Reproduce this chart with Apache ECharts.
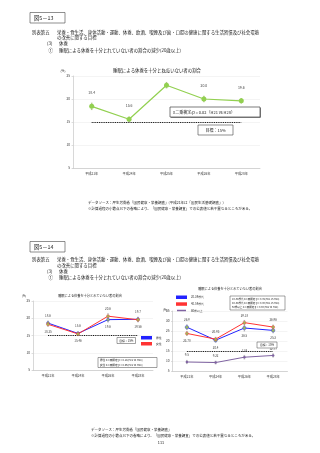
<!DOCTYPE html>
<html><head><meta charset="utf-8">
<script src="https://cdn.jsdelivr.net/npm/echarts@6/dist/echarts.min.js"></script>
<style>html,body{margin:0;padding:0;background:#fff}#c{width:320px;height:453px}</style>
</head><body><div id="c"></div>
<script>
// ---- data ----
const cats1 = ['平成21年','平成24年','平成25年','平成26年','平成28年'];
const total = [18.4, 15.6, 23.0, 20.0, 19.6];
const totalErr = [0.7, 0.5, 0.6, 0.6, 0.5];
const cats2 = ['平成21年','平成24年','平成26年','平成28年'];
const male = [18.6, 15.6, 19.6, 19.7];
const female = [18.25, 15.46, 20.6, 19.56];
const maleErr = [0.6, 0.5, 0.7, 0.6];
const femaleErr = [0.6, 0.5, 0.7, 0.6];
const age2039 = [26.9, 20.4, 26.5, 25.3];
const age4059 = [23.78, 20.93, 29.18, 26.96];
const age60 = [9.5, 9.22, 11.9, 12.77];
const err2039 = [1.2, 1.0, 1.5, 1.2];
const err4059 = [1.0, 0.9, 1.1, 1.0];
const err60 = [0.8, 0.7, 0.9, 0.8];
const targetValue = 15;
const axis1 = {min: 5, max: 25, interval: 5};
const axis2 = {min: 5, max: 25, interval: 5};
const axis3 = {min: 5, max: 35, interval: 5};

const FONT = '"Noto Sans CJK JP", sans-serif';
const chart = echarts.init(document.getElementById('c'), null, {renderer: 'canvas'});

function txt(x, y, s, size, opt) {
  opt = opt || {};
  return {type: 'text', x: x, y: y, z: 10, style: {text: s, fill: opt.color || '#222',
    font: (opt.weight || 'normal') + ' ' + size + 'px ' + FONT,
    textAlign: opt.align || 'left', textVerticalAlign: 'middle'}};
}
function box(x, y, w, h, lw, shadow) {
  const arr = [];
  if (shadow) arr.push({type: 'rect', z: 9, shape: {x: x + 0.8, y: y + 0.8, width: w, height: h}, style: {fill: '#666', stroke: null}});
  arr.push({type: 'rect', z: 9, shape: {x: x, y: y, width: w, height: h}, style: {fill: '#fff', stroke: '#444', lineWidth: lw || 0.5}});
  return arr;
}
function xAx(gi, cats) {
  return {type: 'category', gridIndex: gi, data: cats, boundaryGap: true,
    axisLine: {lineStyle: {color: '#bdbdbd', width: 0.6}}, axisTick: {show: false},
    axisLabel: {fontSize: 3.2, color: '#333', margin: 4, fontFamily: FONT}};
}
function yAx(gi, a) {
  return {type: 'value', gridIndex: gi, min: a.min, max: a.max, interval: a.interval,
    axisLine: {show: true, lineStyle: {color: '#bdbdbd', width: 0.6}},
    axisTick: {show: true, length: 1.5, lineStyle: {color: '#bdbdbd', width: 0.5}},
    splitLine: {show: true, lineStyle: {color: '#e8e8e8', width: 0.5}},
    axisLabel: {fontSize: 3.2, color: '#333', margin: 3, fontFamily: FONT}};
}
function errSeries(gi, vals, errs, color) {
  return {type: 'custom', xAxisIndex: gi, yAxisIndex: gi, z: 3, silent: true,
    data: vals.map((v, i) => [i, v - errs[i], v + errs[i]]),
    encode: {x: 0, y: [1, 2]},
    renderItem: function (params, api) {
      const lo = api.coord([api.value(0), api.value(1)]);
      const hi = api.coord([api.value(0), api.value(2)]);
      const w = 0.8;
      const st = {stroke: color, lineWidth: 0.5};
      return {type: 'group', children: [
        {type: 'line', shape: {x1: lo[0], y1: lo[1], x2: hi[0], y2: hi[1]}, style: st},
        {type: 'line', shape: {x1: lo[0] - w, y1: lo[1], x2: lo[0] + w, y2: lo[1]}, style: st},
        {type: 'line', shape: {x1: hi[0] - w, y1: hi[1], x2: hi[0] + w, y2: hi[1]}, style: st}
      ]};
    }};
}
function targetLine(cats) {
  return {silent: true, symbol: 'none', label: {show: false},
    lineStyle: {color: '#111', type: [1, 0.8], width: 1},
    data: [[{coord: [cats[0], targetValue]}, {coord: [cats[cats.length - 1], targetValue]}]]};
}
function pairLabels(a, b) {
  return a.map((v, i) => ({value: v, label: {position: v >= b[i] ? 'top' : 'bottom'}}));
}
const lblStyle = {show: true, fontSize: 3, color: '#444', distance: 4, fontFamily: FONT, formatter: p => String(p.value)};

const HEAD = 4.4;
const SRC = 3.5;
const graphics = [];
// ===== Top section =====
graphics.push(...box(30, 12.5, 35, 10.5, 0.6));
graphics.push(txt(34, 18, '図5－13', 5.3));
graphics.push(txt(32, 32, '別表第五', HEAD));
graphics.push(txt(57, 32, '栄養・食生活、身体活動・運動、休養、飲酒、喫煙及び歯・口腔の健康に関する生活習慣及び社会環境', HEAD));
graphics.push(txt(57, 37.5, 'の改善に関する目標', HEAD));
graphics.push(txt(47, 43.5, '(3)', HEAD));
graphics.push(txt(59, 43.5, '休養', HEAD));
graphics.push(txt(48.5, 50.5, '①', HEAD));
graphics.push(txt(59, 50.5, '睡眠による休養を十分とれていない者の割合の減少(20歳以上)', HEAD));
graphics.push(txt(157, 70.5, '睡眠による休養を十分とれていない者の割合', 4.4, {align: 'center'}));
graphics.push(txt(63, 70.5, '(%)', 3, {align: 'center'}));
graphics.push(...box(170, 107, 90, 10, 0.7, true));
graphics.push(txt(173, 112, 'χ二乗検定:p = 0.02（H21 vs H28）', 4));
graphics.push(...box(198, 125, 35, 10, 0.6));
graphics.push(txt(215.5, 130, '目標：15%', 4, {align: 'center'}));
graphics.push(txt(88, 203, 'データソース：厚生労働省「国民健康・栄養調査」(平成21年は「国民生活基礎調査」)', SRC));
graphics.push(txt(88, 208.5, '※計算過程の小数点以下の省略により、「国民健康・栄養調査」での公表値と若干異なるところがある。', SRC));

// ===== Bottom section =====
graphics.push(...box(30, 241.5, 35, 10.5, 0.6));
graphics.push(txt(34, 247, '図5－14', 5.3));
graphics.push(txt(32, 259.5, '別表第五', HEAD));
graphics.push(txt(57, 259.5, '栄養・食生活、身体活動・運動、休養、飲酒、喫煙及び歯・口腔の健康に関する生活習慣及び社会環境', HEAD));
graphics.push(txt(57, 265, 'の改善に関する目標', HEAD));
graphics.push(txt(47, 271, '(3)', HEAD));
graphics.push(txt(59, 271, '休養', HEAD));
graphics.push(txt(48.5, 277.5, '①', HEAD));
graphics.push(txt(59, 277.5, '睡眠による休養を十分とれていない者の割合の減少(20歳以上)', HEAD));
// left chart texts
graphics.push(txt(90, 296, '睡眠による休養を十分とれていない者の割合', 3.2, {align: 'center'}));
graphics.push(txt(24, 296, '(%)', 2.8, {align: 'center'}));
graphics.push(...box(117, 337.5, 18.5, 6, 0.5));
graphics.push(txt(126.3, 340.5, '目標：15%', 2.8, {align: 'center'}));
graphics.push(...box(98, 357.5, 59, 10, 0.5));
graphics.push(txt(100, 360.3, '男性 χ二乗検定:p = 0.14(H21 vs H28)', 2.6));
graphics.push(txt(100, 365, '女性 χ二乗検定:p = 0.06(H21 vs H28)', 2.6));
// right chart texts
graphics.push(txt(230, 289, '睡眠による休養を十分とれていない者の割合', 3.2, {align: 'center'}));
graphics.push(txt(165, 310, '(%)', 2.8, {align: 'center'}));
graphics.push(...box(230, 296, 55, 14, 0.5));
graphics.push(txt(232, 299.3, '20-39歳代 χ二乗検定:p = 0.39(H21 vs H28)', 2.5));
graphics.push(txt(232, 303.3, '40-59歳代 χ二乗検定:p = 0.00(H21 vs H28)', 2.5));
graphics.push(txt(232, 307.3, '60歳以上 χ二乗検定:p = 0.00(H21 vs H28)', 2.5));
graphics.push(...box(257, 342, 20, 6, 0.5));
graphics.push(txt(267, 345, '目標：15%', 2.8, {align: 'center'}));
// footer
graphics.push(txt(91, 430, 'データソース：厚生労働省「国民健康・栄養調査」', SRC));
graphics.push(txt(91, 436, '※計算過程の小数点以下の省略により、「国民健康・栄養調査」での公表値と若干異なるところがある。', SRC));
graphics.push(txt(161, 443, '111', 3.8, {align: 'center'}));

const option = {
  backgroundColor: '#fff',
  animation: false,
  textStyle: {fontFamily: FONT},
  grid: [
    {left: 73, top: 76, width: 187, height: 92},
    {left: 33, top: 301, width: 120, height: 69},
    {left: 172.5, top: 311, width: 115, height: 60}
  ],
  xAxis: [xAx(0, cats1), xAx(1, cats2), xAx(2, cats2)],
  yAxis: [yAx(0, axis1), yAx(1, axis2), yAx(2, axis3)],
  legend: [
    {data: ['男性', '女性'], orient: 'vertical', left: 141, top: 336, itemWidth: 9, itemHeight: 1.5, icon: 'rect', itemGap: 2.5,
     textStyle: {fontSize: 2.8, color: '#333', fontFamily: FONT}, padding: 0},
    {data: ['20-39歳代', '40-59歳代', '60歳以上'], orient: 'vertical', left: 176, top: 295.5, itemWidth: 9, itemHeight: 1.5, icon: 'rect', itemGap: 3.3,
     textStyle: {fontSize: 2.8, color: '#333', fontFamily: FONT}, padding: 0}
  ],
  series: [
    errSeries(0, total, totalErr, '#7aa63a'),
    {type: 'line', name: '全体', xAxisIndex: 0, yAxisIndex: 0, data: total, z: 4,
     symbol: 'circle', symbolSize: 5, itemStyle: {color: '#92d050'}, lineStyle: {color: '#92d050', width: 1.2},
     label: {show: true, position: 'top', distance: 9, fontSize: 3.5, color: '#444', fontFamily: FONT, formatter: p => Number(p.value).toFixed(1)},
     markLine: targetLine(cats1)},
    errSeries(1, male, maleErr, '#8a8a8a'),
    errSeries(1, female, femaleErr, '#8a8a8a'),
    {type: 'line', name: '男性', xAxisIndex: 1, yAxisIndex: 1, data: pairLabels(male, female), z: 4,
     symbol: 'circle', symbolSize: 3, itemStyle: {color: '#9bbb59', borderColor: '#2222ff', borderWidth: 0.4},
     lineStyle: {color: '#2222ff', width: 1}, label: lblStyle, markLine: targetLine(cats2)},
    {type: 'line', name: '女性', xAxisIndex: 1, yAxisIndex: 1, data: pairLabels(female, male), z: 5,
     symbol: 'circle', symbolSize: 3, itemStyle: {color: '#9bbb59', borderColor: '#ff3333', borderWidth: 0.4},
     lineStyle: {color: '#ff3333', width: 1}, label: lblStyle},
    errSeries(2, age2039, err2039, '#8a8a8a'),
    errSeries(2, age4059, err4059, '#8a8a8a'),
    errSeries(2, age60, err60, '#8a8a8a'),
    {type: 'line', name: '20-39歳代', xAxisIndex: 2, yAxisIndex: 2, data: pairLabels(age2039, age4059), z: 4,
     symbol: 'circle', symbolSize: 3.5, itemStyle: {color: '#9bbb59', borderColor: '#2222ff', borderWidth: 0.4},
     lineStyle: {color: '#2222ff', width: 1}, label: lblStyle, markLine: targetLine(cats2)},
    {type: 'line', name: '40-59歳代', xAxisIndex: 2, yAxisIndex: 2, data: pairLabels(age4059, age2039), z: 5,
     symbol: 'circle', symbolSize: 3, itemStyle: {color: '#9bbb59', borderColor: '#ff3333', borderWidth: 0.4},
     lineStyle: {color: '#ff3333', width: 1}, label: lblStyle},
    {type: 'line', name: '60歳以上', xAxisIndex: 2, yAxisIndex: 2, data: age60, z: 4,
     symbol: 'circle', symbolSize: 2.5, itemStyle: {color: '#8064a2'},
     lineStyle: {color: '#8064a2', width: 1}, label: Object.assign({}, lblStyle, {position: 'top'})}
  ],
  graphic: graphics
};
chart.setOption(option);
</script></body></html>
